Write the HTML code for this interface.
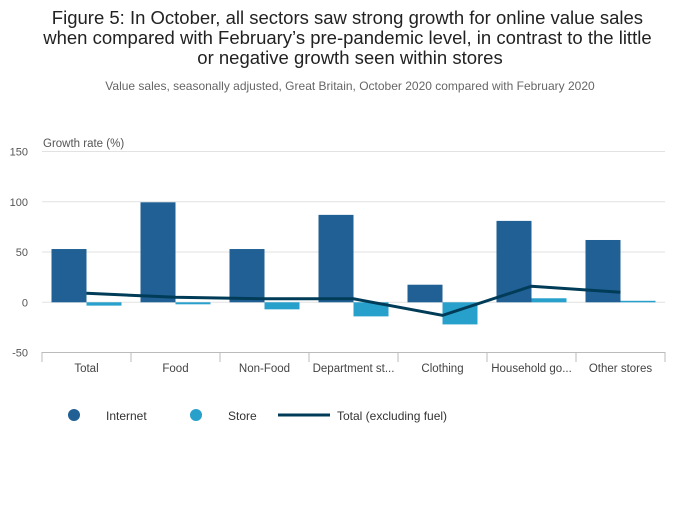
<!DOCTYPE html>
<html><head><meta charset="utf-8"><style>
body{margin:0;background:#fff;font-family:"Liberation Sans",sans-serif;}
svg text{font-family:"Liberation Sans",sans-serif;}
</style></head><body>
<svg width="700" height="502" xmlns="http://www.w3.org/2000/svg">
<text x="350" y="24" text-anchor="middle" font-size="18.5" fill="#222">
<tspan x="350" y="24">Figure 5: In October, all sectors saw strong growth for online value sales</tspan>
<tspan x="350" y="44">when compared with February’s pre-pandemic level, in contrast to the little</tspan>
<tspan x="350" y="64">or negative growth seen within stores</tspan></text>
<text x="350" y="90" text-anchor="middle" font-size="12" fill="#666">Value sales, seasonally adjusted, Great Britain, October 2020 compared with February 2020</text>
<text x="43" y="147" font-size="11.5" fill="#555">Growth rate (%)</text>
<g id="grid"></g><g id="bars"></g><g id="line"></g><g id="xaxis"></g>
<g>
<circle cx="74" cy="415" r="6" fill="#206095"/>
<text x="106" y="420" font-size="12" fill="#333">Internet</text>
<circle cx="196" cy="415" r="6" fill="#27a0cc"/>
<text x="228" y="420" font-size="12" fill="#333">Store</text>
<line x1="278" y1="415" x2="330" y2="415" stroke="#003c57" stroke-width="3"/>
<text x="337" y="420" font-size="12" fill="#333">Total (excluding fuel)</text>
</g>
</svg>
<script>
const categories=["Total","Food","Non-Food","Department st...","Clothing","Household go...","Other stores"];
const internet=[53,99.5,53,87,17.5,81,62];
const store=[-3.3,-2,-7,-14,-22,4,1.5];
const total=[9,5,3.5,3.5,-13,16,10];
const yTicks=[150,100,50,0,-50];
const NS="http://www.w3.org/2000/svg";
const y=v=>302.3-v*1.005;
const xl=42,xr=665,band=(xr-xl)/categories.length;
const labelX=i=>xl+band*(i+0.5);
const groupX=i=>labelX(i);
function mk(t,a,p){const e=document.createElementNS(NS,t);for(const k in a)e.setAttribute(k,a[k]);p.appendChild(e);return e;}
const grid=document.getElementById('grid');
yTicks.forEach(v=>{
 if(v!==-50){const l=mk('line',{x1:xl,x2:xr,y1:y(v),y2:y(v),stroke:'#e2e2e2','stroke-width':1},grid);
 
 }
 const t=mk('text',{x:28,y:y(v)+4,'text-anchor':'end','font-size':11,fill:'#555'},grid);t.textContent=v;
 
 
});
const bars=document.getElementById('bars');
categories.forEach((c,i)=>{
 const gx=groupX(i);
 let v=internet[i];
 const b=mk('rect',{x:gx-35,width:35,y:Math.min(y(v),y(0)),height:Math.abs(y(v)-y(0)),fill:'#206095'},bars);
 
 
 v=store[i];
 const s=mk('rect',{x:gx,width:35,y:Math.min(y(v),y(0)),height:Math.abs(y(v)-y(0)),fill:'#27a0cc'},bars);
 
 
});
const pl=mk('polyline',{points:total.map((v,i)=>groupX(i)+','+y(v)).join(' '),fill:'none',stroke:'#003c57','stroke-width':3,'stroke-linejoin':'miter'},document.getElementById('line'));


const xa=document.getElementById('xaxis');
const ax=mk('line',{x1:xl,x2:xr,y1:352.5,y2:352.5,stroke:'#bbb'},xa);


for(let i=0;i<=categories.length;i++){const tk=mk('line',{x1:xl+band*i,x2:xl+band*i,y1:352,y2:362,stroke:'#bbb'},xa);
 
 }
categories.forEach((c,i)=>{const t=mk('text',{x:labelX(i),y:372,'text-anchor':'middle','font-size':11.5,fill:'#444'},xa);t.textContent=c;
 
 });
</script>
</body></html>
